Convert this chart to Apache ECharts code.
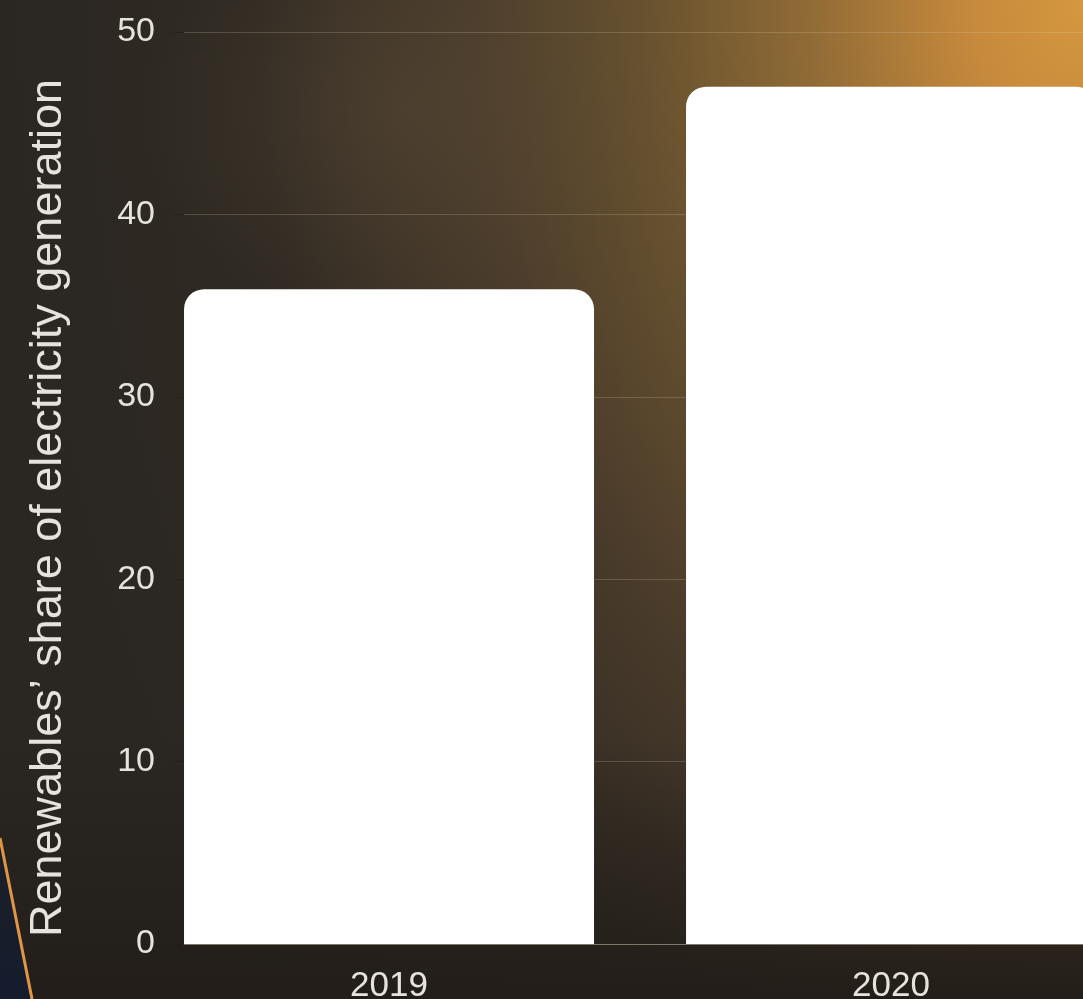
<!DOCTYPE html>
<html>
<head>
<meta charset="utf-8">
<script src="https://cdn.jsdelivr.net/npm/echarts@6/dist/echarts.min.js"></script>
<style>
  html, body { margin: 0; padding: 0; width: 1083px; height: 999px; overflow: hidden; }
  body {
    background-color: #2a2621;
    background-image:
      linear-gradient(to top, rgba(34,29,24,0.95) 0px, rgba(34,29,24,0.6) 80px, rgba(34,29,24,0) 260px),
      radial-gradient(ellipse 260px 220px at 400px 110px, rgba(95,80,58,0.35) 0%, rgba(95,80,58,0) 100%),
      radial-gradient(ellipse 1100px 1500px at 1083px 0px,
        #d5973f 0%, #c78a3c 10%, #906b36 25%, #67512f 40%, #4b3c2b 55%, #302a23 75%, rgba(42,38,33,0) 100%);
  }
  #deco { position: absolute; left: 0; top: 0; width: 1083px; height: 999px; }
  #chart { position: absolute; left: 0; top: 0; width: 1083px; height: 999px; }
</style>
</head>
<body>
<svg id="deco" viewBox="0 0 1083 999">
  <defs>
    <linearGradient id="blueFade" x1="0" y1="0" x2="0" y2="1">
      <stop offset="0" stop-color="#1d2328" stop-opacity="0"/>
      <stop offset="0.45" stop-color="#1a2029" stop-opacity="0.7"/>
      <stop offset="1" stop-color="#141c2e" stop-opacity="1"/>
    </linearGradient>
  </defs>
  <path d="M0,600 L0,999 L32,999 Q13,910 0,838 Z" fill="url(#blueFade)"/>
  <path d="M0,838 Q15,915 32,999" fill="none" stroke="#df9646" stroke-width="3"/>
</svg>
<div id="chart"></div>
<script>
const categories = ["2019", "2020"];
const shareValues = [35.9, 47.0];
const yTicks = [0, 10, 20, 30, 40, 50];
const yAxisTitle = "Renewables\u2019 share of electricity generation";

const years = categories.map(Number);
const seriesData = years.map((y, i) => [y, shareValues[i]]);

const chart = echarts.init(document.getElementById('chart'), null, { renderer: 'canvas' });
const textColor = '#e6e2dc';
const fontFamily = '"Liberation Sans", Arial, sans-serif';

chart.setOption({
  backgroundColor: 'transparent',
  animation: false,
  grid: { left: 184, right: 0, top: 32, bottom: 55, containLabel: false, outerBoundsMode: 'none' },
  xAxis: {
    type: 'value',
    min: years[0] - 0.4084,
    max: years[0] - 0.4084 + 1.7908,
    splitLine: { show: false },
    axisTick: { show: false },
    axisLine: { show: true, lineStyle: { color: 'rgba(150,140,130,0.7)', width: 1 } },
    axisLabel: {
      customValues: years,
      formatter: v => String(v),
      color: textColor,
      fontSize: 35,
      fontFamily: fontFamily,
      margin: 25
    }
  },
  yAxis: {
    type: 'value',
    min: yTicks[0],
    max: yTicks[yTicks.length - 1],
    interval: 10,
    name: yAxisTitle,
    nameLocation: 'middle',
    nameGap: 113,
    nameRotate: 90,
    nameTextStyle: {
      color: textColor,
      fontSize: 45,
      fontFamily: fontFamily,
      padding: [0, 40, 0, 0]
    },
    axisLine: { show: false },
    axisTick: { show: true, length: 10, lineStyle: { color: 'rgba(30,25,20,0.45)' } },
    splitLine: { show: true, lineStyle: { color: 'rgba(225,205,175,0.22)', width: 1 } },
    axisLabel: {
      color: textColor,
      fontSize: 34,
      fontFamily: fontFamily,
      margin: 29
    }
  },
  series: [{
    type: 'bar',
    data: seriesData,
    barWidth: 410,
    itemStyle: { color: '#ffffff', borderRadius: [20, 20, 0, 0] },
    clip: true
  }]
});
</script>
</body>
</html>
